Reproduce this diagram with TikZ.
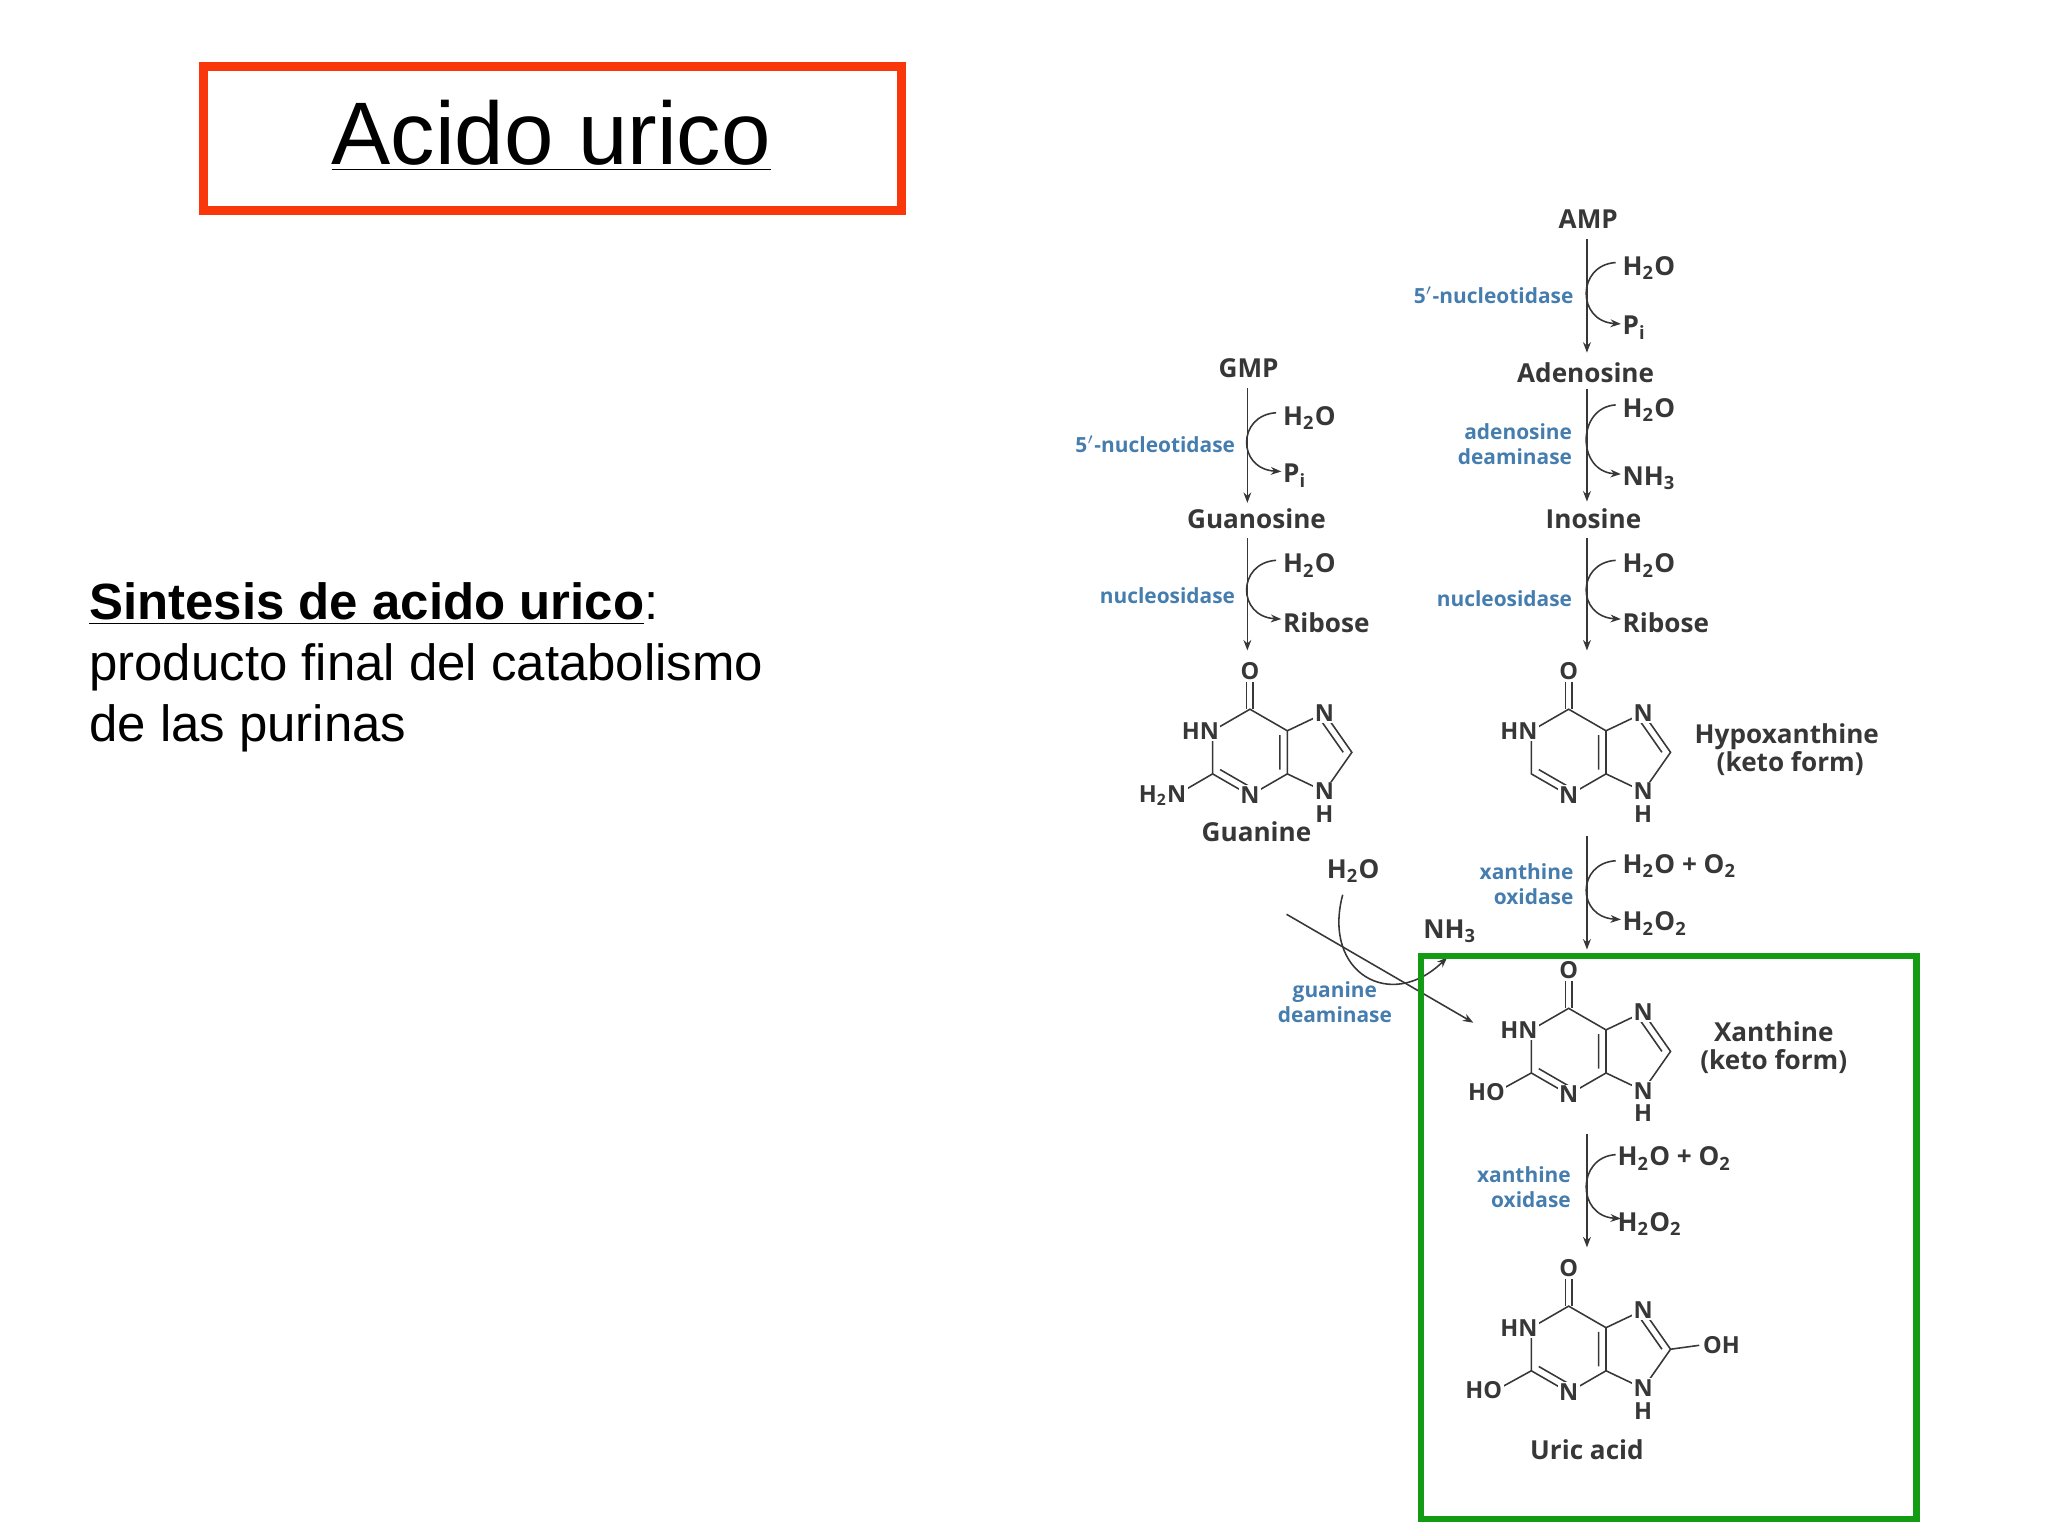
\documentclass[tikz,border=0pt]{standalone}
\usepackage{fontspec}
\setmainfont{Liberation Sans}
\newfontfamily\dfont{Open Sans}
\usetikzlibrary{calc,arrows.meta}
\definecolor{enz}{RGB}{70,125,175}
\definecolor{ink}{RGB}{55,55,55}
\tikzset{
 mol/.style={font=\dfont\bfseries\fontsize{10}{11}\selectfont,text=ink,inner sep=1pt},
 atom/.style={font=\dfont\bfseries\fontsize{9}{10}\selectfont,text=ink,inner sep=0.6pt,fill=white},
 enzl/.style={font=\dfont\bfseries\fontsize{8}{9.5}\selectfont,text=enz,align=right,inner sep=1pt},
 rx/.style={draw=ink,line width=0.6pt,-{Stealth[length=4pt,width=3pt]}},
 bond/.style={draw=ink,line width=0.6pt},
}
\newcommand\sidearrow[3]{% x, ytop, ybot
 \draw[rx] (#1+22,#2) .. controls (#1-8,#2+2) and (#1-8,#3-2) .. (#1+26,#3);}
\newcommand\purine[2]{%
 \begin{scope}[shift={(#1,#2)}]
 \coordinate (C6) at (0,-33); \coordinate (N1) at (-28.6,-16.5);
 \coordinate (C2) at (-28.6,16.5); \coordinate (N3) at (0,33);
 \coordinate (C4) at (28.6,16.5); \coordinate (C5) at (28.6,-16.5);
 \coordinate (N7) at (57,-30); \coordinate (C8) at (78,0); \coordinate (N9) at (57,30);
 \coordinate (ctr) at (0,0); \coordinate (ctf) at (48,0);
 \draw[bond] (C6)--(N1)--(C2)--(N3)--(C4)--(C5)--cycle (C5)--(N7)--(C8)--(N9)--(C4);
 \draw[bond] ($(C2)!.2!(ctr)$)--($(N3)!.2!(ctr)$) ($(C4)!.2!(ctr)$)--($(C5)!.2!(ctr)$)
   ($(N7)!.22!(ctf)$)--($(C8)!.22!(ctf)$);
 \draw[bond] (-2.5,-33)--(-2.5,-54) (2.5,-33)--(2.5,-54);
 \node[atom] (oo) at (0,-62) {O};
 \node[atom] (hn) at (-38,-16.5) {HN};
 \node[atom] (n3) at (N3) {N};
 \node[atom] (n7) at (N7) {N};
 \node[atom] (n9) at (N9) {N};
 \node[atom] (h9) at (57,47) {H};
 \end{scope}}
\begin{document}
\begin{tikzpicture}[x=0.5pt,y=-0.5pt]
\useasboundingbox (0,0) rectangle (1568,1176);
% title
\draw[draw={rgb,255:red,250;green,55;blue,10},line width=3.5pt] (156,51) rectangle (690,161);
\node[font=\fontsize{34}{40}\selectfont] (title) at (422,104) {\underline{Acido urico}};
\node[anchor=west,align=left,font=\fontsize{19.5}{23.5}\selectfont,inner sep=0] (txt) at (68,511)
 {\textbf{\underline{Sintesis de acido urico}}:\\producto final del catabolismo\\de las purinas};
% right column
\node[mol] (amp) at (1216,168) {AMP};
\node[mol] (ado) at (1214,285) {Adenosine};
\node[mol] (ino) at (1220,397) {Inosine};
\draw[rx] (1215,183)--(1215,270);
\draw[rx] (1215,298)--(1215,384);
\draw[rx] (1215,412)--(1215,498);
\node[mol,anchor=west] (w1) at (1240,205) {H\textsubscript{2}O};
\node[mol,anchor=west] (p1) at (1240,251) {P\textsubscript{i}};
\sidearrow{1215}{201}{248}
\node[enzl,anchor=east] (e1) at (1207,226) {5$'$-nucleotidase};
\node[mol,anchor=west] (w2) at (1240,314) {H\textsubscript{2}O};
\node[mol,anchor=west] (nh1) at (1240,366) {NH\textsubscript{3}};
\sidearrow{1215}{310}{363}
\node[enzl,anchor=east] (e2) at (1206,340) {adenosine\\deaminase};
\node[mol,anchor=west] (w3) at (1240,433) {H\textsubscript{2}O};
\node[mol,anchor=west] (r1) at (1240,477) {Ribose};
\sidearrow{1215}{429}{474}
\node[enzl,anchor=east] (e3) at (1206,458) {nucleosidase};
% left column
\node[mol] (gmp) at (956,282) {GMP};
\node[mol] (guo) at (962,397) {Guanosine};
\draw[rx] (955,297)--(955,385);
\draw[rx] (955,412)--(955,498);
\node[mol,anchor=west] (w4) at (980,320) {H\textsubscript{2}O};
\node[mol,anchor=west] (p2) at (980,364) {P\textsubscript{i}};
\sidearrow{955}{316}{361}
\node[enzl,anchor=east] (e4) at (948,340) {5$'$-nucleotidase};
\node[mol,anchor=west] (w5) at (980,433) {H\textsubscript{2}O};
\node[mol,anchor=west] (r2) at (980,477) {Ribose};
\sidearrow{955}{429}{474}
\node[enzl,anchor=east] (e5) at (948,456) {nucleosidase};
% guanine
\purine{957}{576}
\draw[bond] (C2)--(-57+957,33+576);
\node[atom] (h2n) at (890,609) {H\textsubscript{2}N};
\node[mol] (gua) at (962,637) {Guanine};
% hypoxanthine
\purine{1201}{576}
\node[mol,align=center] (hyp) at (1368,574) {Hypoxanthine\\\ (keto form)};
% xanthine oxidase 1
\draw[rx] (1215,640)--(1215,727);
\node[mol,anchor=west] (w6) at (1240,663) {H\textsubscript{2}O + O\textsubscript{2}};
\node[mol,anchor=west] (p3) at (1240,707) {H\textsubscript{2}O\textsubscript{2}};
\sidearrow{1215}{659}{704}
\node[enzl,anchor=east] (e6) at (1207,677) {xanthine\\oxidase};
% guanine deaminase
\coordinate (gd0) at (985,700); \coordinate (gd1) at (1128,783);
\draw[rx] (gd0)--(gd1);
\node[mol] (w7) at (1036,667) {H\textsubscript{2}O};
\node[mol] (nh2) at (1110,713) {NH\textsubscript{3}};
\draw[rx] (1028,685) .. controls (1012,745) and (1065,775) .. (1108,733);
\node[enzl,align=center] (e7) at (1022,767) {guanine\\deaminase};
% xanthine
\purine{1201}{805}
\draw[bond] (C2)--(-55+1201,31+805);
\node[atom] (ho1) at (1138,836) {HO};
\node[mol,align=center] (xan) at (1358,802) {Xanthine\\(keto form)};
% xanthine oxidase 2
\draw[rx] (1215,868)--(1215,955);
\node[mol,anchor=west] (w8) at (1236,887) {H\textsubscript{2}O + O\textsubscript{2}};
\node[mol,anchor=west] (p4) at (1236,937) {H\textsubscript{2}O\textsubscript{2}};
\sidearrow{1215}{884}{933}
\node[enzl,anchor=east] (e8) at (1205,909) {xanthine\\oxidase};
% uric acid
\purine{1201}{1033}
\draw[bond] (C2)--(-55+1201,31+1033) (C8)--(100+1201,1030);
\node[atom] (ho2) at (1136,1064) {HO};
\node[atom] (oh) at (1318,1030) {OH};
\node[mol] (uric) at (1215,1110) {Uric acid};
% green box
\draw[draw={rgb,255:red,20;green,155;blue,20},line width=2.6pt] (1088,732) rectangle (1467,1163);
\end{tikzpicture}
\end{document}
